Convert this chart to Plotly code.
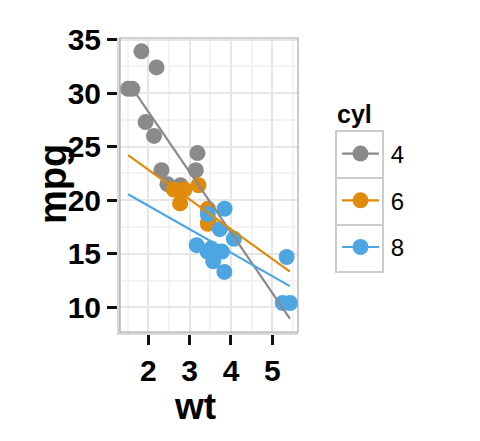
import numpy as np
import plotly.graph_objects as go

# mtcars data
wt = [2.620, 2.875, 2.320, 3.215, 3.440, 3.460, 3.570, 3.190, 3.150, 3.440, 3.440,
      4.070, 3.730, 3.780, 5.250, 5.424, 5.345, 2.200, 1.615, 1.835, 2.465, 3.520,
      3.435, 3.840, 3.845, 1.935, 2.140, 1.513, 3.170, 2.770, 3.570, 2.780]
mpg = [21.0, 21.0, 22.8, 21.4, 18.7, 18.1, 14.3, 24.4, 22.8, 19.2, 17.8,
       16.4, 17.3, 15.2, 10.4, 10.4, 14.7, 32.4, 30.4, 33.9, 21.5, 15.5,
       15.2, 13.3, 19.2, 27.3, 26.0, 30.4, 15.8, 19.7, 15.0, 21.4]
cyl = [6, 6, 4, 6, 8, 6, 8, 4, 4, 6, 6,
       8, 8, 8, 8, 8, 8, 4, 4, 4, 4, 8,
       8, 8, 8, 4, 4, 4, 8, 6, 8, 4]
groups = [4, 6, 8]
colors = {4: "#8a8a8a", 6: "#E08B0A", 8: "#4DA6E2"}

x_tickvals = [2, 3, 4, 5]
y_tickvals = [10, 15, 20, 25, 30, 35]

FONT = "Liberation Sans, Arial, Helvetica, sans-serif"

wt_a = np.array(wt)
mpg_a = np.array(mpg)
cyl_a = np.array(cyl)
xmin, xmax = wt_a.min(), wt_a.max()
xline = np.array([xmin, xmax])

fig = go.Figure()
fits = {}
for g in groups:
    m = cyl_a == g
    slope, icpt = np.polyfit(wt_a[m], mpg_a[m], 1)
    fits[g] = icpt + slope * xline
    fig.add_trace(go.Scatter(x=wt_a[m], y=mpg_a[m], mode="markers",
                             marker=dict(size=16, color=colors[g]),
                             showlegend=False, hoverinfo="skip"))
for g in groups:
    fig.add_trace(go.Scatter(x=xline, y=fits[g], mode="lines",
                             line=dict(color=colors[g], width=2.2),
                             showlegend=False, hoverinfo="skip"))
for g in groups:
    fig.add_trace(go.Scatter(x=[None], y=[None], mode="lines+markers",
                             name="\u00a0" + str(g),
                             legendgroup=str(g),
                             marker=dict(size=16, color=colors[g]),
                             line=dict(color=colors[g], width=2.2)))

# ggplot-like 5% expansion
xr = xmax - xmin
ally = np.concatenate([mpg_a] + [fits[g] for g in groups])
ymin, ymax = ally.min(), ally.max()
yr = ymax - ymin
x_range = [xmin - 0.05 * xr, xmax + 0.05 * xr]
y_range = [ymin - 0.05 * yr, ymax + 0.05 * yr]

W, H = 480, 441
L, R, T, B = 120, 182, 38, 109
pw, ph = W - L - R, H - T - B

def px(xpix):
    return (xpix - L) / pw

def py(ypix):
    return (H - B - ypix) / ph

axis_common = dict(
    showgrid=True, gridcolor="#E6E6E6", gridwidth=1.5,
    ticks="outside", ticklen=10, tickwidth=2.5, tickcolor="#111111",
    tickfont=dict(family=FONT, size=30, color="#000000", weight="bold"),
    showline=True, linecolor="#DADADA", linewidth=3,
    zeroline=False,
)

fig.update_xaxes(range=x_range, tickvals=x_tickvals, ticktext=[str(v) for v in x_tickvals],
                 minor=dict(dtick=0.5, tick0=0.5, showgrid=True, gridcolor="#F3F3F3", gridwidth=1.5),
                 **axis_common)
fig.update_yaxes(range=y_range, tickvals=y_tickvals, ticktext=[str(v) for v in y_tickvals],
                 minor=dict(dtick=2.5, tick0=0, showgrid=True, gridcolor="#F3F3F3", gridwidth=1.5),
                 **axis_common)

shapes = [dict(type="rect", xref="paper", yref="paper", x0=0, x1=1, y0=0, y1=1,
               line=dict(color="#A8A8A8", width=1.2), layer="above")]
box_tops = [131, 178, 225]
for t in box_tops:
    shapes.append(dict(type="rect", xref="paper", yref="paper",
                       x0=px(336), x1=px(383), y0=py(t + 47), y1=py(t),
                       line=dict(color="#CCCCCC", width=2), fillcolor="white", layer="below"))

annotations = [
    dict(text="wt", xref="paper", yref="paper", x=px(195), y=py(406), showarrow=False,
         xanchor="center", yanchor="middle",
         font=dict(family=FONT, size=37, color="#000000", weight="bold")),
    dict(text="mpg", xref="paper", yref="paper", x=px(53), y=py(184), showarrow=False,
         xanchor="center", yanchor="middle", textangle=-90,
         font=dict(family=FONT, size=38, color="#000000", weight="bold")),
    dict(text="cyl", xref="paper", yref="paper", x=px(335), y=py(114), showarrow=False,
         xanchor="left", yanchor="middle",
         font=dict(family=FONT, size=25, color="#000000", weight="bold")),
]

fig.update_layout(
    width=W, height=H,
    margin=dict(l=L, r=R, t=T, b=B),
    paper_bgcolor="white", plot_bgcolor="white",
    font=dict(family=FONT, color="#000000"),
    shapes=shapes, annotations=annotations,
    legend=dict(
        x=px(337), y=py(131.5), xanchor="left", yanchor="top",
        font=dict(family=FONT, size=24, color="#000000"),
        tracegroupgap=12.5, bgcolor="rgba(0,0,0,0)",
        itemwidth=37,
    ),
)

fig.write_html("out.html", config={"displayModeBar": False},
               post_script="document.body.style.margin='0px';")
